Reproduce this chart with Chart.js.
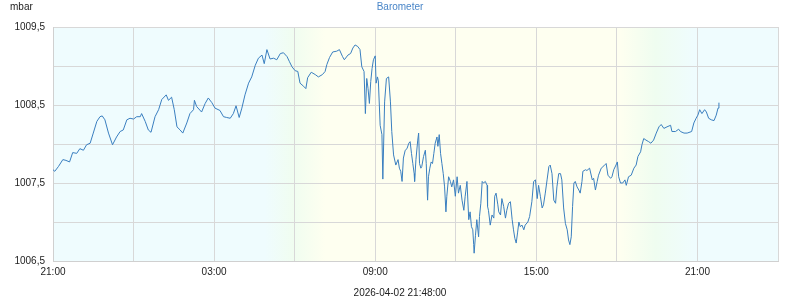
<!DOCTYPE html>
<html>
<head>
<meta charset="utf-8">
<style>
  body { margin: 0; background: #fff; }
  canvas { display: block; }
</style>
<script src="https://cdn.jsdelivr.net/npm/chart.js@4/dist/chart.umd.min.js"></script>
</head>
<body>
<canvas id="baro" width="800" height="300"></canvas>
<script>
// minutes after 21:00 on 2026-04-01
const minutes = [
  0, 4, 12, 22, 29, 37, 44, 53, 60, 68, 75, 83, 90, 98, 105, 110, 116, 124, 133, 142,
  150, 157, 165, 172, 180, 187, 195, 198, 206, 213, 219, 228, 236, 243, 253, 258, 265, 271, 277, 284,
  290, 299, 306, 314, 316, 321, 332, 340, 347, 355, 362, 373, 381, 388, 396, 403, 409, 416, 422, 429,
  437, 444, 452, 459, 467, 472, 478, 485, 493, 500, 508, 515, 523, 528, 534, 541, 547, 552, 560, 565,
  569, 577, 586, 593, 602, 608, 612, 618, 625, 634, 640, 647, 651, 659, 665, 670, 675, 681, 686, 690,
  695, 698, 701, 704, 707, 710, 713, 716, 720, 722, 725, 727, 731, 735, 737, 741, 745, 750, 754, 757,
  761, 766, 771, 774, 777, 780, 783, 787, 791, 795, 798, 801, 804, 807, 808, 811, 815, 817, 819, 822,
  824, 828, 832, 834, 837, 839, 842, 845, 848, 851, 854, 858, 860, 863, 866, 869, 872, 875, 878, 880,
  884, 888, 891, 895, 899, 903, 906, 910, 914, 918, 921, 925, 929, 932, 935, 938, 940, 941, 944, 947,
  951, 953, 956, 959, 962, 966, 970, 971, 973, 977, 981, 985, 987, 990, 994, 996, 1000, 1003, 1007, 1011,
  1014, 1018, 1022, 1026, 1029, 1032, 1035, 1038, 1041, 1044, 1048, 1052, 1055, 1061, 1065, 1070, 1074, 1078, 1082, 1085,
  1089, 1093, 1096, 1100, 1104, 1108, 1111, 1115, 1119, 1123, 1126, 1130, 1134, 1137, 1141, 1145, 1149, 1152, 1155, 1158,
  1161, 1164, 1167, 1171, 1175, 1178, 1182, 1184, 1190, 1193, 1199, 1205, 1208, 1212, 1216, 1219, 1225, 1231, 1236, 1240,
  1246, 1249, 1253, 1258, 1261, 1264, 1268, 1273, 1278, 1281, 1286, 1292, 1298, 1303, 1307, 1313, 1316, 1320, 1325, 1331,
  1336, 1342, 1348, 1354, 1359, 1365, 1372, 1380, 1383, 1391, 1398, 1402, 1410, 1417, 1427, 1432, 1437, 1441, 1445, 1450,
  1456, 1460, 1465, 1471, 1477, 1482, 1486, 1488
];

// mbar
const pressure = [
  1007.67, 1007.65, 1007.71, 1007.80, 1007.79, 1007.77, 1007.89, 1007.88, 1007.94, 1007.92, 1007.99, 1008.01, 1008.14, 1008.29, 1008.35, 1008.36, 1008.31, 1008.14, 1007.99, 1008.09,
  1008.16, 1008.18, 1008.31, 1008.33, 1008.32, 1008.35, 1008.35, 1008.39, 1008.29, 1008.18, 1008.15, 1008.35, 1008.44, 1008.57, 1008.63, 1008.56, 1008.60, 1008.44, 1008.22, 1008.18,
  1008.14, 1008.27, 1008.39, 1008.44, 1008.56, 1008.48, 1008.41, 1008.52, 1008.59, 1008.53, 1008.46, 1008.43, 1008.35, 1008.34, 1008.33, 1008.39, 1008.49, 1008.34, 1008.46, 1008.63,
  1008.78, 1008.86, 1009.01, 1009.10, 1009.14, 1009.03, 1009.21, 1009.09, 1009.10, 1009.08, 1009.16, 1009.17, 1009.12, 1009.06, 1008.99, 1008.94, 1008.93, 1008.78, 1008.74, 1008.71,
  1008.85, 1008.92, 1008.89, 1008.86, 1008.89, 1008.93, 1009.02, 1009.11, 1009.18, 1009.19, 1009.21, 1009.12, 1009.08, 1009.14, 1009.16, 1009.23, 1009.27, 1009.25, 1009.21, 1008.99,
  1008.93, 1008.39, 1008.84, 1008.71, 1008.52, 1008.80, 1008.97, 1009.08, 1009.13, 1008.78, 1008.86, 1008.81, 1008.24, 1008.12, 1007.55, 1008.54, 1008.84, 1008.86, 1008.54, 1008.16,
  1007.86, 1007.73, 1007.80, 1007.69, 1007.65, 1007.52, 1007.82, 1007.92, 1007.94, 1008.01, 1008.03, 1007.88, 1007.75, 1007.62, 1007.52, 1007.80, 1008.05, 1008.14, 1007.75, 1007.69,
  1007.71, 1007.84, 1007.92, 1007.75, 1007.28, 1007.58, 1007.69, 1007.77, 1007.75, 1007.88, 1008.01, 1008.09, 1007.97, 1008.12, 1007.88, 1007.75, 1007.62, 1007.45, 1007.13, 1007.33,
  1007.58, 1007.52, 1007.45, 1007.54, 1007.33, 1007.58, 1007.37, 1007.47, 1007.28, 1007.15, 1007.33, 1007.52, 1007.03, 1007.13, 1006.94, 1006.90, 1006.71, 1006.60, 1006.83, 1007.03,
  1006.81, 1007.07, 1007.24, 1007.52, 1007.50, 1007.52, 1007.47, 1007.20, 1007.15, 1006.96, 1007.09, 1007.05, 1007.33, 1007.37, 1007.22, 1007.13, 1007.09, 1007.30, 1007.20, 1007.05,
  1007.15, 1007.24, 1007.26, 1007.03, 1006.90, 1006.79, 1006.73, 1006.86, 1007.00, 1006.94, 1006.96, 1006.90, 1006.96, 1007.00, 1007.07, 1007.26, 1007.52, 1007.54, 1007.30, 1007.47,
  1007.33, 1007.18, 1007.22, 1007.37, 1007.54, 1007.71, 1007.73, 1007.62, 1007.28, 1007.24, 1007.45, 1007.62, 1007.62, 1007.54, 1007.18, 1006.98, 1006.90, 1006.77, 1006.71, 1006.81,
  1007.20, 1007.50, 1007.52, 1007.45, 1007.41, 1007.37, 1007.52, 1007.65, 1007.67, 1007.66, 1007.69, 1007.54, 1007.56, 1007.41, 1007.52, 1007.60, 1007.69, 1007.72, 1007.75, 1007.60,
  1007.56, 1007.58, 1007.67, 1007.73, 1007.77, 1007.58, 1007.50, 1007.50, 1007.54, 1007.47, 1007.58, 1007.60, 1007.69, 1007.73, 1007.84, 1007.90, 1007.99, 1008.07, 1008.05, 1008.03,
  1008.01, 1008.05, 1008.14, 1008.22, 1008.25, 1008.20, 1008.22, 1008.24, 1008.16, 1008.16, 1008.19, 1008.16, 1008.14, 1008.14, 1008.16, 1008.27, 1008.33, 1008.37, 1008.44, 1008.39,
  1008.44, 1008.41, 1008.33, 1008.31, 1008.30, 1008.37, 1008.46, 1008.53
];

const xLabels = ['21:00', '', '03:00', '', '09:00', '', '15:00', '', '21:00', ''];
const yLabels = ['1006,5', '', '1007,5', '', '1008,5', '', '1009,5'];

// night / dawn / day / dusk shading, in minutes after 21:00
const skyStops = [
  [0, '#effcfe'], [474, '#effcfe'], [537, '#f0fdf0'], [608, '#fefff0'],
  [1268, '#fefff0'], [1346, '#effdf0'], [1435, '#effcfe'], [1620, '#effcfe']
];

const chartTitle = 'Barometer';
const unitLabel = 'mbar';
const stamp = '2026-04-02 21:48:00';

const sky = {
  id: 'sky',
  beforeDraw(chart) {
    const { ctx, chartArea: a, scales: { x } } = chart;
    const g = ctx.createLinearGradient(a.left, 0, a.right, 0);
    skyStops.forEach(([m, c]) => {
      const f = (x.getPixelForValue(m) - a.left) / a.width;
      g.addColorStop(Math.min(1, Math.max(0, f)), c);
    });
    ctx.save();
    ctx.fillStyle = g;
    ctx.fillRect(a.left, a.top, a.width, a.height);
    ctx.restore();
  },
  afterDraw(chart) {
    const ctx = chart.ctx;
    ctx.save();
    ctx.font = '10px "Liberation Sans", Arial, sans-serif';
    ctx.textBaseline = 'middle';
    ctx.fillStyle = '#4a86c8';
    ctx.textAlign = 'center';
    ctx.fillText(chartTitle, 400, 7);
    ctx.fillStyle = '#222';
    ctx.textAlign = 'left';
    ctx.fillText(unitLabel, 10, 7);
    ctx.textAlign = 'center';
    ctx.fillText(stamp, 400, 293);
    ctx.restore();
  }
};

Chart.defaults.font.family = '"Liberation Sans", Arial, sans-serif';
Chart.defaults.font.size = 10;
Chart.defaults.color = '#222';

new Chart(document.getElementById('baro'), {
  type: 'line',
  data: {
    datasets: [{
      data: minutes.map((m, i) => ({ x: m, y: pressure[i] })),
      borderColor: '#3a7fc0',
      borderWidth: 1,
      pointRadius: 0,
      tension: 0,
      fill: false
    }]
  },
  options: {
    responsive: false,
    animation: false,
    layout: { padding: { top: 27, right: 22, left: 0, bottom: 0 } },
    plugins: { legend: { display: false }, tooltip: { enabled: false } },
    scales: {
      x: {
        type: 'linear',
        min: 0,
        max: 1620,
        afterFit: s => { s.height = 39; },
        grid: { color: '#d8d8d8', drawTicks: false },
        border: { color: '#d0d0d0' },
        ticks: {
          stepSize: 180,
          padding: 5,
          maxRotation: 0,
          autoSkip: false,
          callback: (v, i) => xLabels[i]
        }
      },
      y: {
        min: 1006.5,
        max: 1009.5,
        afterFit: s => { s.width = 53; },
        grid: { color: '#d8d8d8', drawTicks: false },
        border: { color: '#d0d0d0' },
        ticks: {
          stepSize: 0.5,
          padding: 8,
          autoSkip: false,
          callback: (v, i) => yLabels[i]
        }
      }
    }
  },
  plugins: [sky]
});
</script>
</body>
</html>
